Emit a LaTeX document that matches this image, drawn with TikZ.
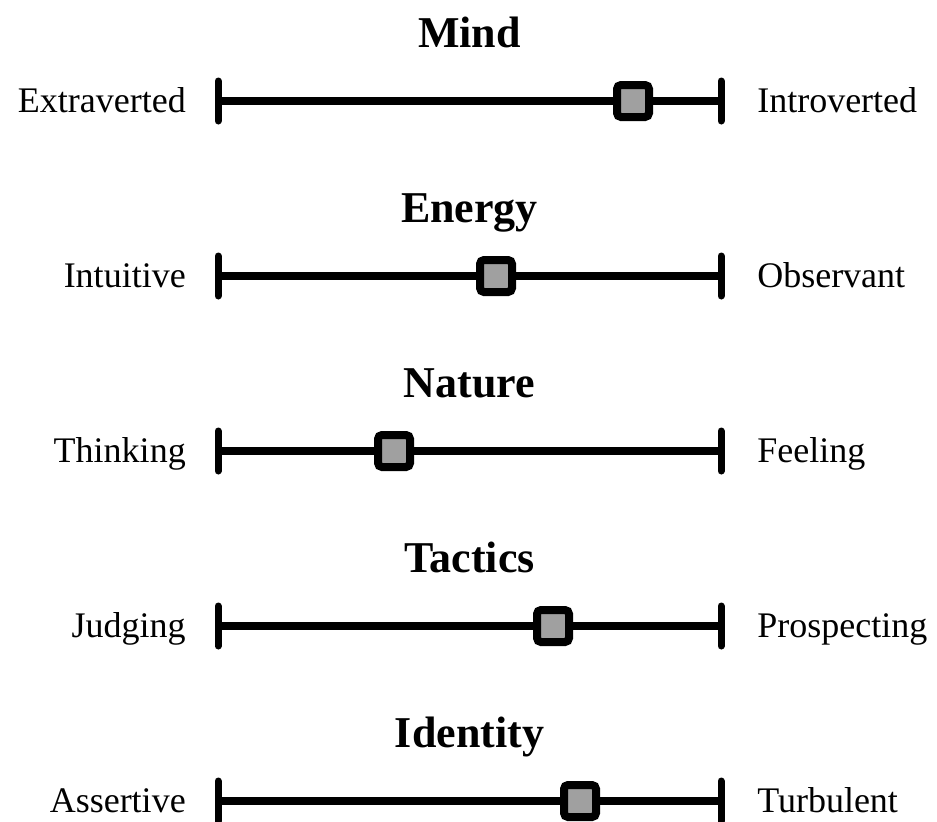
\documentclass[tikz,border=0pt]{standalone}
\usepackage{fontspec}
\setmainfont{Liberation Serif}
\definecolor{markgray}{HTML}{A0A0A0}
\begin{document}
\begin{tikzpicture}[x=0.75pt,y=-0.75pt,
  titletext/.style={font=\fontsize{33}{36}\selectfont\bfseries, inner sep=0pt, anchor=base},
  lefttext/.style={font=\fontsize{27}{30}\selectfont, inner sep=0pt, anchor=base east},
  righttext/.style={font=\fontsize{27}{30}\selectfont, inner sep=0pt, anchor=base west},
  barline/.style={line width=6pt},
  tickline/.style={line width=5.25pt, line cap=round},
  marker/.style={draw=black, line width=6pt, fill=markgray, rectangle, rounded corners=3pt,
    minimum size=24pt, inner sep=0pt}]
\useasboundingbox (0,0) rectangle (937,821);
\foreach \i/\t/\l/\r/\m in {0/Mind/Extraverted/Introverted/633,
                            1/Energy/Intuitive/Observant/496,
                            2/Nature/Thinking/Feeling/394,
                            3/Tactics/Judging/Prospecting/553,
                            4/Identity/Assertive/Turbulent/580}{
  \pgfmathsetmacro{\yy}{101+175*\i}
  \node[titletext] (title\i) at (469.5,\yy-54) {\t};
  \node[lefttext] (left\i) at (186,\yy+11) {\l};
  \node[righttext] (right\i) at (757,\yy+11) {\r};
  \coordinate (a\i) at (218,\yy);
  \coordinate (b\i) at (721,\yy);
  \coordinate (at\i) at (218,\yy-20);
  \coordinate (ab\i) at (218,\yy+20);
  \coordinate (bt\i) at (721,\yy-20);
  \coordinate (bb\i) at (721,\yy+20);
  \draw[barline] (a\i) -- (b\i);
  \draw[tickline] (at\i) -- (ab\i);
  \draw[tickline] (bt\i) -- (bb\i);
  \node[marker] (mark\i) at (\m,\yy) {};
}
\end{tikzpicture}
\end{document}
